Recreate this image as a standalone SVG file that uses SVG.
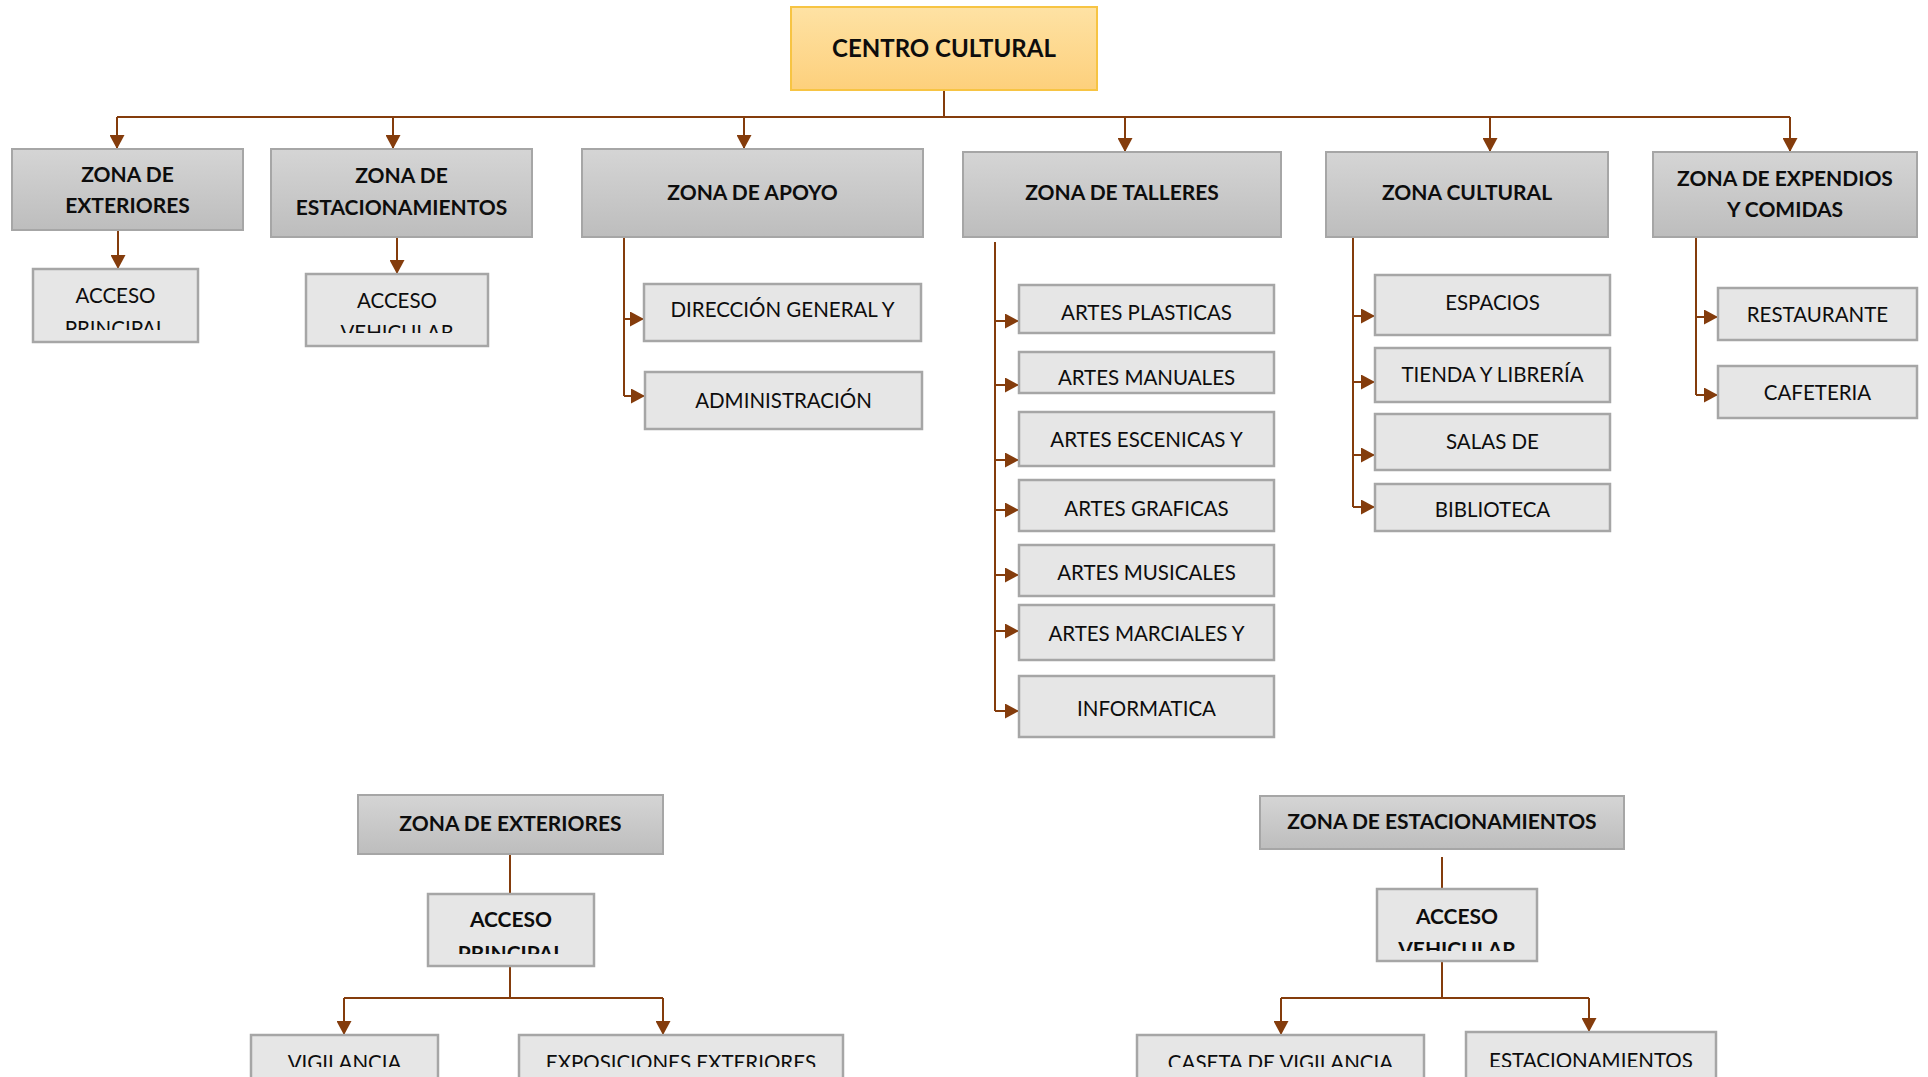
<svg xmlns="http://www.w3.org/2000/svg" width="1928" height="1077" viewBox="0 0 1928 1077">
<style>
.l1{fill:url(#gGray);stroke:#a6a6a6;stroke-width:2}
.l2{fill:#e6e6e6;stroke:#a6a6a6;stroke-width:2.5}
.tb{font-family:Lato,'Liberation Sans',sans-serif;font-weight:bold;font-size:21px;text-anchor:middle;fill:#0d0d0d}
.tr{font-family:Lato,'Liberation Sans',sans-serif;font-size:20.5px;text-anchor:middle;fill:#0d0d0d}
.conn path{stroke:#843c0c;stroke-width:2;fill:none}
.arr{marker-end:url(#ah)}
</style>
<defs>
<linearGradient id="gGray" x1="0" y1="0" x2="0" y2="1"><stop offset="0" stop-color="#d5d5d5"/><stop offset="1" stop-color="#bdbdbd"/></linearGradient>
<linearGradient id="gGold" x1="0" y1="0" x2="0" y2="1"><stop offset="0" stop-color="#fee2a4"/><stop offset="1" stop-color="#fdd07c"/></linearGradient>
<marker id="ah" viewBox="0 0 14 15" refX="14" refY="7.5" markerWidth="14" markerHeight="15" markerUnits="userSpaceOnUse" orient="auto"><path d="M0,0 L14,7.5 L0,15 z" fill="#843c0c"/></marker>
<clipPath id="cAP1"><rect x="33" y="269" width="165" height="61"/></clipPath>
<clipPath id="cAV1"><rect x="306" y="274" width="182" height="59"/></clipPath>
<clipPath id="cMAN"><rect x="1019" y="352" width="255" height="36"/></clipPath>
<clipPath id="cAP2"><rect x="428" y="894" width="166" height="60"/></clipPath>
<clipPath id="cAV2"><rect x="1377" y="889" width="160" height="62"/></clipPath>
<clipPath id="cBot"><rect x="0" y="1030" width="1928" height="37"/></clipPath>
</defs>
<rect width="1928" height="1077" fill="#ffffff"/>

<g class="conn">
<path d="M944,90 V117"/>
<path d="M117,117 H1790"/>
<path class="arr" d="M117,117 V149"/>
<path class="arr" d="M393,117 V149"/>
<path class="arr" d="M744,117 V149"/>
<path class="arr" d="M1125,117 V152"/>
<path class="arr" d="M1490,117 V152"/>
<path class="arr" d="M1790,117 V152"/>
<path class="arr" d="M118,230 V269"/>
<path class="arr" d="M397,237 V274"/>
<path d="M624,237 V396"/>
<path class="arr" d="M624,319 H644"/>
<path class="arr" d="M624,396 H645"/>
<path d="M995,242 V711"/>
<path class="arr" d="M995,321 H1019"/>
<path class="arr" d="M995,385 H1019"/>
<path class="arr" d="M995,460 H1019"/>
<path class="arr" d="M995,510 H1019"/>
<path class="arr" d="M995,575 H1019"/>
<path class="arr" d="M995,631 H1019"/>
<path class="arr" d="M995,711 H1019"/>
<path d="M1353,237 V507"/>
<path class="arr" d="M1353,316 H1375"/>
<path class="arr" d="M1353,382 H1375"/>
<path class="arr" d="M1353,455 H1375"/>
<path class="arr" d="M1353,507 H1375"/>
<path d="M1696,237 V395"/>
<path class="arr" d="M1696,317 H1718"/>
<path class="arr" d="M1696,395 H1718"/>
<path d="M510,854 V894"/>
<path d="M510,966 V998"/>
<path d="M344,998 H663"/>
<path class="arr" d="M344,998 V1035"/>
<path class="arr" d="M663,998 V1035"/>
<path d="M1442,857 V889"/>
<path d="M1442,961 V998"/>
<path d="M1281,998 H1589"/>
<path class="arr" d="M1281,998 V1035"/>
<path class="arr" d="M1589,998 V1032"/>
</g>

<g id="centro-cultural">
<rect x="791" y="7" width="306" height="83" fill="url(#gGold)" stroke="#f7c443" stroke-width="2"/>
<text class="tb" x="944" y="57" style="font-size:24px">CENTRO CULTURAL</text>
</g>

<g id="zona-exteriores">
<rect class="l1" x="12" y="149" width="231" height="81"/>
<text class="tb" x="127.5" y="182">ZONA DE</text>
<text class="tb" x="127.5" y="213">EXTERIORES</text>
</g>
<g id="zona-estacionamientos">
<rect class="l1" x="271" y="149" width="261" height="88"/>
<text class="tb" x="401.5" y="183">ZONA DE</text>
<text class="tb" x="401.5" y="215">ESTACIONAMIENTOS</text>
</g>
<g id="zona-apoyo">
<rect class="l1" x="582" y="149" width="341" height="88"/>
<text class="tb" x="752.5" y="200">ZONA DE APOYO</text>
</g>
<g id="zona-talleres">
<rect class="l1" x="963" y="152" width="318" height="85"/>
<text class="tb" x="1122" y="200">ZONA DE TALLERES</text>
</g>
<g id="zona-cultural">
<rect class="l1" x="1326" y="152" width="282" height="85"/>
<text class="tb" x="1467" y="200">ZONA CULTURAL</text>
</g>
<g id="zona-expendios">
<rect class="l1" x="1653" y="152" width="264" height="85"/>
<text class="tb" x="1785" y="186">ZONA DE EXPENDIOS</text>
<text class="tb" x="1785" y="217">Y COMIDAS</text>
</g>

<g id="acceso-principal-1">
<rect class="l2" x="33" y="269" width="165" height="73"/>
<g clip-path="url(#cAP1)">
<text class="tr" x="115.5" y="303">ACCESO</text>
<text class="tr" x="115.5" y="336">PRINCIPAL</text>
</g>
</g>
<g id="acceso-vehicular-1">
<rect class="l2" x="306" y="274" width="182" height="72"/>
<g clip-path="url(#cAV1)">
<text class="tr" x="397" y="308">ACCESO</text>
<text class="tr" x="397" y="340">VEHICULAR</text>
</g>
</g>

<g id="direccion">
<rect class="l2" x="644" y="284" width="277" height="57"/>
<text class="tr" x="782.5" y="317">DIRECCIÓN GENERAL Y</text>
</g>
<g id="administracion">
<rect class="l2" x="645" y="372" width="277" height="57"/>
<text class="tr" x="783.5" y="408">ADMINISTRACIÓN</text>
</g>

<g id="artes-plasticas">
<rect class="l2" x="1019" y="285" width="255" height="48"/>
<text class="tr" x="1146.5" y="320">ARTES PLASTICAS</text>
</g>
<g id="artes-manuales">
<rect class="l2" x="1019" y="352" width="255" height="41"/>
<text class="tr" x="1146.5" y="385" clip-path="url(#cMAN)">ARTES MANUALES</text>
</g>
<g id="artes-escenicas">
<rect class="l2" x="1019" y="412" width="255" height="54"/>
<text class="tr" x="1146.5" y="447">ARTES ESCENICAS Y</text>
</g>
<g id="artes-graficas">
<rect class="l2" x="1019" y="480" width="255" height="51"/>
<text class="tr" x="1146.5" y="516">ARTES GRAFICAS</text>
</g>
<g id="artes-musicales">
<rect class="l2" x="1019" y="545" width="255" height="51"/>
<text class="tr" x="1146.5" y="580">ARTES MUSICALES</text>
</g>
<g id="artes-marciales">
<rect class="l2" x="1019" y="605" width="255" height="55"/>
<text class="tr" x="1146.5" y="641">ARTES MARCIALES Y</text>
</g>
<g id="informatica">
<rect class="l2" x="1019" y="676" width="255" height="61"/>
<text class="tr" x="1146.5" y="716">INFORMATICA</text>
</g>

<g id="espacios">
<rect class="l2" x="1375" y="275" width="235" height="60"/>
<text class="tr" x="1492.5" y="310">ESPACIOS</text>
</g>
<g id="tienda">
<rect class="l2" x="1375" y="348" width="235" height="54"/>
<text class="tr" x="1492.5" y="382">TIENDA Y LIBRERÍA</text>
</g>
<g id="salas">
<rect class="l2" x="1375" y="414" width="235" height="56"/>
<text class="tr" x="1492.5" y="449">SALAS DE</text>
</g>
<g id="biblioteca">
<rect class="l2" x="1375" y="484" width="235" height="47"/>
<text class="tr" x="1492.5" y="517">BIBLIOTECA</text>
</g>

<g id="restaurante">
<rect class="l2" x="1718" y="288" width="199" height="52"/>
<text class="tr" x="1817.5" y="322">RESTAURANTE</text>
</g>
<g id="cafeteria">
<rect class="l2" x="1718" y="366" width="199" height="52"/>
<text class="tr" x="1817.5" y="400">CAFETERIA</text>
</g>

<g id="zona-exteriores-2">
<rect class="l1" x="358" y="795" width="305" height="59"/>
<text class="tb" x="510.5" y="831">ZONA DE EXTERIORES</text>
</g>
<g id="acceso-principal-2">
<rect class="l2" x="428" y="894" width="166" height="72"/>
<g clip-path="url(#cAP2)">
<text class="tb" x="511" y="927">ACCESO</text>
<text class="tb" x="511" y="961">PRINCIPAL</text>
</g>
</g>
<g id="vigilancia">
<rect class="l2" x="251" y="1035" width="187" height="60"/>
<text class="tr" x="344.5" y="1070" clip-path="url(#cBot)">VIGILANCIA</text>
</g>
<g id="exposiciones">
<rect class="l2" x="519" y="1035" width="324" height="60"/>
<text class="tr" x="681" y="1070" clip-path="url(#cBot)">EXPOSICIONES EXTERIORES</text>
</g>

<g id="zona-estacionamientos-2">
<rect class="l1" x="1260" y="796" width="364" height="53"/>
<text class="tb" x="1442" y="829">ZONA DE ESTACIONAMIENTOS</text>
</g>
<g id="acceso-vehicular-2">
<rect class="l2" x="1377" y="889" width="160" height="72"/>
<g clip-path="url(#cAV2)">
<text class="tb" x="1457" y="924">ACCESO</text>
<text class="tb" x="1457" y="957">VEHICULAR</text>
</g>
</g>
<g id="caseta">
<rect class="l2" x="1137" y="1035" width="287" height="60"/>
<text class="tr" x="1280.5" y="1070" clip-path="url(#cBot)">CASETA DE VIGILANCIA</text>
</g>
<g id="estacionamientos">
<rect class="l2" x="1466" y="1032" width="250" height="60"/>
<text class="tr" x="1591" y="1068" clip-path="url(#cBot)">ESTACIONAMIENTOS</text>
</g>
</svg>
